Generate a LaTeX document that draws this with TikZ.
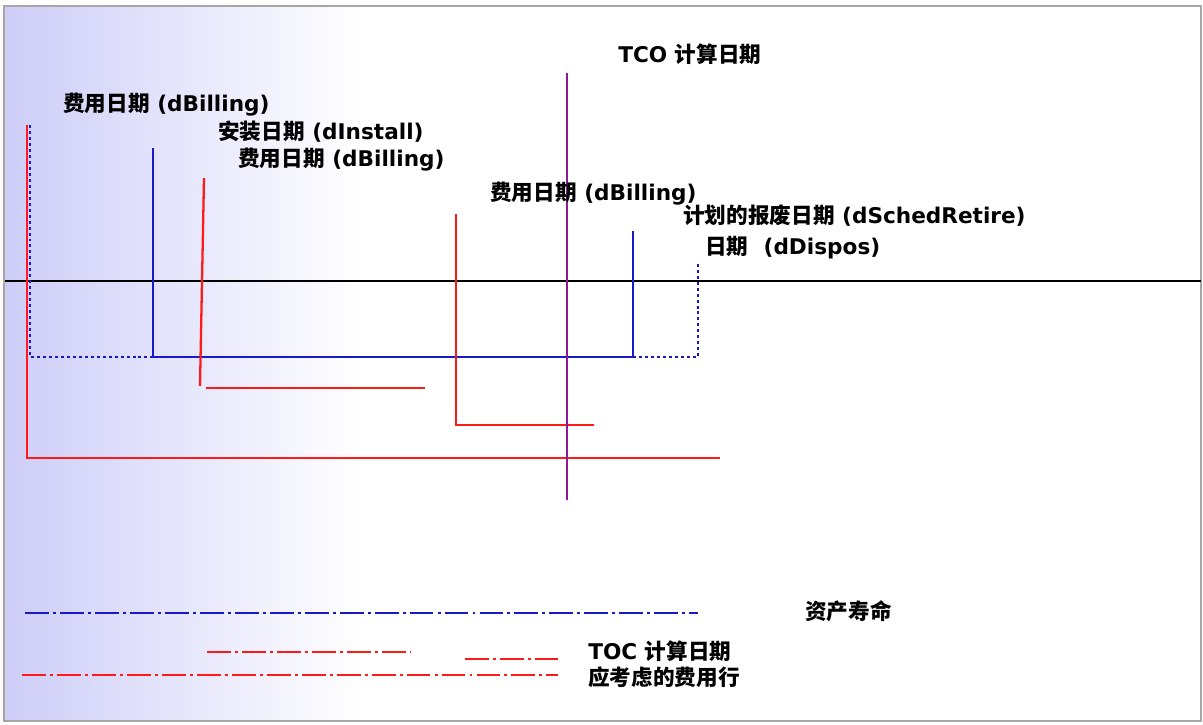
\documentclass[tikz,border=0pt]{standalone}
\usepackage{fontspec}
\setmainfont{DejaVu Sans}
\newfontfamily\cjk{Noto Sans CJK SC}
\newcommand\zh[1]{{\cjk\bfseries #1}}
\definecolor{lineblue}{RGB}{25,25,200}
\definecolor{linered}{RGB}{255,25,25}
\definecolor{tcopurple}{RGB}{140,25,150}
\definecolor{shadeblue}{RGB}{205,205,248}
\tikzset{lbl/.style = {anchor=west, inner sep=0pt, font=\bfseries\fontsize{12.3}{14}\selectfont},
           bl/.style = {draw=lineblue, line width=1.3pt},
           bldot/.style = {draw=lineblue, line width=1.3pt, dash pattern=on 1.7pt off 1.7pt},
           rd/.style = {draw=linered, line width=1.3pt},
           dd/.style = {line width=1.3pt, dash pattern=on 13.6pt off 2.3pt on 1.7pt off 2.3pt}}

\begin{document}
\begin{tikzpicture}[x=0.02cm, y=-0.02cm]
    \useasboundingbox (0,0) rectangle (1203,724);
    % background and frame
    \shade[left color=shadeblue, right color=white] (4,6) rectangle (360,721);
    \draw[gray!70, line width=1pt] (4,6) rectangle (1201,721);
    % time axis
    \coordinate (ax0) at (5,281); \coordinate (ax1) at (1201,281);
    \draw[black, line width=1.3pt] (ax0) -- (ax1);
    % asset life (blue)
    \coordinate (b0) at (30,125);  \coordinate (b1) at (30,357);
    \coordinate (b2) at (153,357); \coordinate (b3) at (153,148);
    \coordinate (b4) at (633,357); \coordinate (b5) at (633,231);
    \coordinate (b6) at (698,357); \coordinate (b7) at (698,264);
    \draw[bldot] (b0) -- (b1) -- (b2);
    \draw[bl] (b3) -- (b2) -- (b4) -- (b5);
    \draw[bldot] (b4) -- (b6) -- (b7);
    % billing lines (red)
    \coordinate (r0) at (27,125);  \coordinate (r1) at (27,458);  \coordinate (r2) at (720,458);
    \coordinate (r3) at (204,178); \coordinate (r4) at (200,386);
    \coordinate (r5) at (206,388); \coordinate (r6) at (425,388);
    \coordinate (r7) at (456,214); \coordinate (r8) at (456,425); \coordinate (r9) at (594,425);
    \draw[rd] (r0) -- (r1) -- (r2);
    \draw[rd] (r3) -- (r4);
    \draw[rd] (r5) -- (r6);
    \draw[rd] (r7) -- (r8) -- (r9);
    % TCO date
    \coordinate (t0) at (567,73); \coordinate (t1) at (567,500);
    \draw[draw=tcopurple, line width=1.3pt] (t0) -- (t1);
    % labels
    \node[lbl] (bill1) at (63,105)  {\zh{费用日期} (dBilling)};
    \node[lbl] (inst)  at (218,132) {\zh{安装日期} (dInstall)};
    \node[lbl] (bill2) at (238,160) {\zh{费用日期} (dBilling)};
    \node[lbl] (tco)   at (618,54)  {TCO \zh{计算日期}};
    \node[lbl] (bill3) at (490,194) {\zh{费用日期} (dBilling)};
    \node[lbl] (retir) at (683,216) {\zh{计划的报废日期} (dSchedRetire)};
    \node[lbl] (disp)  at (705,248) {\zh{日期}~~(dDispos)};
    % legend
    \coordinate (l0) at (25,613);  \coordinate (l1) at (698,613);
    \coordinate (l2) at (207,652); \coordinate (l3) at (410,652);
    \coordinate (l4) at (465,659); \coordinate (l5) at (558,659);
    \coordinate (l6) at (22,675);  \coordinate (l7) at (558,675);
    \draw[dd, lineblue] (l0) -- (l1);
    \draw[dd, linered] (l2) -- (l3);
    \draw[dd, linered] (l4) -- (l5);
    \draw[dd, linered] (l6) -- (l7);
    \node[lbl] (life) at (805,611) {\zh{资产寿命}};
    \node[lbl] (toc)  at (588,651) {TOC \zh{计算日期}};
    \node[lbl] (cost) at (588,677) {\zh{应考虑的费用行}};
\end{tikzpicture}
\end{document}
